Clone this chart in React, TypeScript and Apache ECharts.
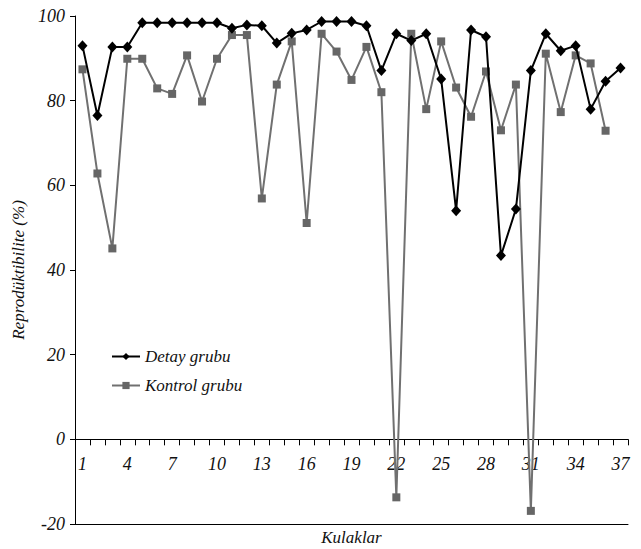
import React, { useEffect, useRef } from "react";
import * as echarts from "echarts";

const categories = Array.from({ length: 37 }, (_, i) => String(i + 1));

const detayValues = [
  93, 76.5, 92.7, 92.7, 98.4, 98.4, 98.4, 98.4, 98.4, 98.4, 97.1, 97.9,
  97.7, 93.6, 95.9, 96.7, 98.7, 98.7, 98.7, 97.7, 87.1, 95.8, 94.2, 95.8,
  85.1, 54.0, 96.7, 95.1, 43.4, 54.4, 87.1, 95.8, 91.8, 93.0, 78.0, 84.6, 87.7,
];

const kontrolValues = [
  87.4, 62.8, 45.1, 89.9, 89.9, 82.9, 81.6, 90.7, 79.8, 89.9, 95.5, 95.5,
  56.9, 83.8, 94.0, 51.1, 95.8, 91.6, 84.9, 92.7, 82.0, -13.7, 95.8, 78.0,
  94.0, 83.1, 76.2, 86.9, 73.0, 83.8, -16.9, 91.1, 77.3, 90.7, 88.8, 72.9,
];

const yTicks = { min: -20, max: 100, interval: 20 };

const FONT = "Liberation Serif";

const GRID = { left: 75, right: 13, top: 16, bottom: 25 };
const H = 549;

export default function App() {
  const ref = useRef<HTMLDivElement>(null);
  useEffect(() => {
    document.body.style.margin = "0";
    const chart = echarts.init(ref.current!, null, { renderer: "svg" });
    const txt = { fontFamily: FONT, fontStyle: "italic" as const, fontSize: 17, color: "#111" };
    // distance from grid bottom to the zero line, from the y scale
    const plotH = H - GRID.top - GRID.bottom;
    const zeroOffset = ((0 - yTicks.min) / (yTicks.max - yTicks.min)) * plotH;
    chart.setOption({
      animation: false,
      backgroundColor: "#fff",
      grid: { ...GRID, containLabel: false, outerBoundsMode: "none" },
      legend: {
        orient: "vertical",
        left: 106,
        top: 343,
        itemWidth: 28,
        itemHeight: 9,
        itemGap: 12,
        textStyle: { ...txt, fontSize: 17 },
        data: ["Detay grubu", "Kontrol grubu"],
      },
      xAxis: [
        {
          type: "category",
          data: categories,
          boundaryGap: true,
          position: "bottom",
          offset: -zeroOffset,
          axisLine: { show: true, onZero: false, lineStyle: { color: "#000", width: 1 } },
          axisTick: { show: true, interval: 0, length: 6, lineStyle: { color: "#000" } },
          axisLabel: { interval: 2, margin: 16, ...txt, fontSize: 18 },
          splitLine: { show: false },
        },
        {
          type: "category",
          data: categories,
          boundaryGap: true,
          position: "bottom",
          offset: 0,
          name: "Kulaklar",
          nameLocation: "middle",
          nameGap: 5,
          nameTextStyle: { ...txt },
          axisLine: { show: true, onZero: false, lineStyle: { color: "#000", width: 1 } },
          axisTick: { show: false },
          axisLabel: { show: false },
          splitLine: { show: false },
        },
      ],
      yAxis: {
        type: "value",
        min: yTicks.min,
        max: yTicks.max,
        interval: yTicks.interval,
        name: "Reprodüktibilite (%)",
        nameLocation: "middle",
        nameGap: 44,
        nameTextStyle: { ...txt },
        axisLine: { show: true, lineStyle: { color: "#000", width: 1 } },
        axisTick: { show: true, length: 5, lineStyle: { color: "#000" } },
        axisLabel: { margin: 10, ...txt, fontSize: 18 },
        splitLine: { show: false },
      },
      series: [
        {
          name: "Detay grubu",
          type: "line",
          xAxisIndex: 0,
          data: detayValues,
          symbol: "diamond",
          symbolSize: [10, 11],
          showSymbol: true,
          showAllSymbol: true,
          lineStyle: { color: "#000", width: 2 },
          itemStyle: { color: "#000" },
          z: 3,
        },
        {
          name: "Kontrol grubu",
          type: "line",
          xAxisIndex: 0,
          data: kontrolValues,
          symbol: "rect",
          symbolSize: 8,
          showSymbol: true,
          showAllSymbol: true,
          lineStyle: { color: "#707070", width: 2 },
          itemStyle: { color: "#666" },
          z: 2,
        },
      ],
    });
    return () => chart.dispose();
  }, []);
  return <div ref={ref} style={{ width: 641, height: 549 }} />;
}
